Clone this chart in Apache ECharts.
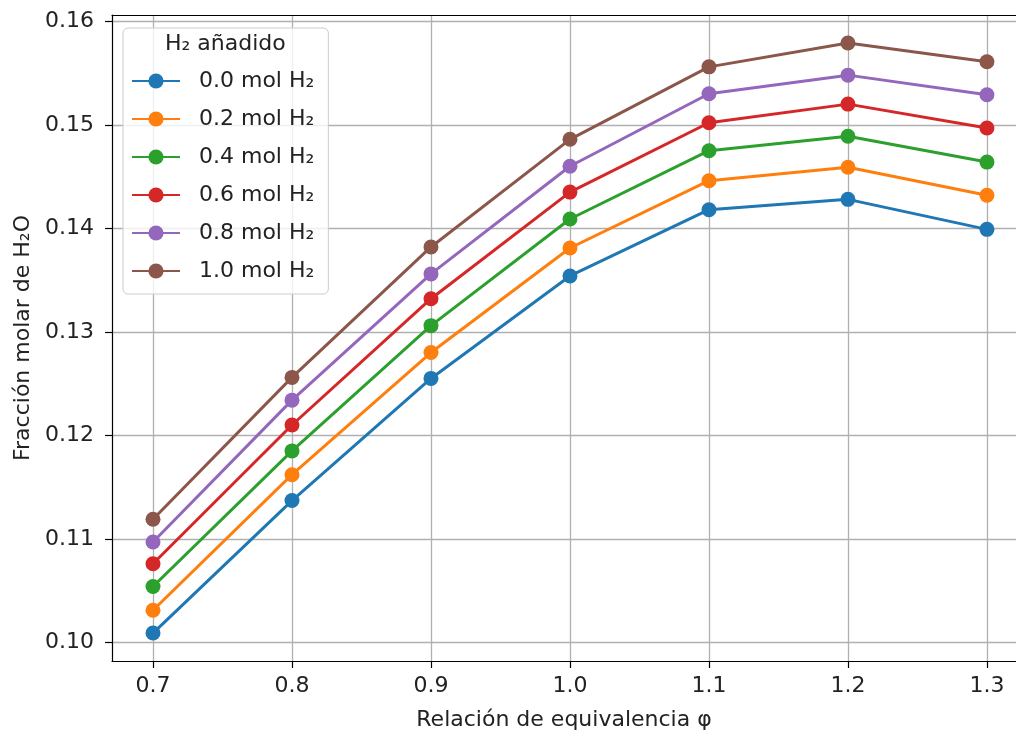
<!DOCTYPE html>
<html>
<head>
<meta charset="utf-8">
<script src="https://cdn.jsdelivr.net/npm/echarts@6/dist/echarts.min.js"></script>
<style>
html,body{margin:0;padding:0;background:#fff;}
#chart{width:1016px;height:736px;}
</style>
</head>
<body>
<div id="chart"></div>
<script>
var phi = [0.7, 0.8, 0.9, 1.0, 1.1, 1.2, 1.3];
var seriesNames = ['0.0 mol H₂', '0.2 mol H₂', '0.4 mol H₂', '0.6 mol H₂', '0.8 mol H₂', '1.0 mol H₂'];
var h2_00 = [0.1009, 0.1137, 0.1255, 0.1354, 0.1418, 0.1428, 0.1399];
var h2_02 = [0.1031, 0.1162, 0.1280, 0.1381, 0.1446, 0.1459, 0.1432];
var h2_04 = [0.1054, 0.1185, 0.1306, 0.1409, 0.1475, 0.1489, 0.1464];
var h2_06 = [0.1076, 0.1210, 0.1332, 0.1435, 0.1502, 0.1520, 0.1497];
var h2_08 = [0.1097, 0.1234, 0.1356, 0.1460, 0.1530, 0.1548, 0.1529];
var h2_10 = [0.1119, 0.1256, 0.1382, 0.1486, 0.1556, 0.1579, 0.1561];
var xTicks = [0.7, 0.8, 0.9, 1.0, 1.1, 1.2, 1.3];
var yTicks = [0.10, 0.11, 0.12, 0.13, 0.14, 0.15, 0.16];
var colors = ['#1f77b4', '#ff7f0e', '#2ca02c', '#d62728', '#9467bd', '#8c564b'];
var allValues = [h2_00, h2_02, h2_04, h2_06, h2_08, h2_10];

var FONT = 'DejaVu Sans';
var FS = 22;
var X_MIN = 0.6705, X_MAX = 1.3209;

var series = allValues.map(function (vals, i) {
  return {
    name: seriesNames[i],
    type: 'line',
    xAxisIndex: 0,
    data: phi.map(function (x, j) { return [x, vals[j]]; }),
    symbol: 'circle',
    symbolSize: 15,
    showSymbol: true,
    clip: true,
    lineStyle: { width: 3, color: colors[i] },
    itemStyle: { color: colors[i] },
    emphasis: { disabled: true },
    animation: false,
    z: 3
  };
});

var chart = echarts.init(document.getElementById('chart'), null, { renderer: 'canvas' });
chart.setOption({
  backgroundColor: '#ffffff',
  animation: false,
  color: colors,
  grid: {
    left: 112, top: 15, right: 0, bottom: 71,
    show: false
  },
  xAxis: [{
    type: 'value',
    min: X_MIN, max: X_MAX,
    name: 'Relación de equivalencia φ',
    nameLocation: 'middle',
    nameGap: 48,
    nameTextStyle: { fontFamily: FONT, fontSize: FS, color: '#222' },
    axisLine: { show: true, onZero: false, lineStyle: { color: '#000', width: 1.2 } },
    axisTick: { show: true, length: 7, lineStyle: { color: '#000', width: 1.2 }, customValues: xTicks },
    axisLabel: {
      fontFamily: FONT, fontSize: FS, color: '#222', margin: 14,
      customValues: xTicks,
      formatter: function (v) { return v.toFixed(1); }
    },
    splitLine: { show: true, lineStyle: { color: '#b0b0b0', width: 1.3 } }
  }, {
    type: 'value',
    position: 'top',
    min: X_MIN, max: X_MAX,
    axisLine: { show: true, onZero: false, lineStyle: { color: '#000', width: 1.2 } },
    axisTick: { show: false },
    axisLabel: { show: false },
    splitLine: { show: false }
  }],
  yAxis: {
    type: 'value',
    min: 0.09820, max: 0.16061,
    name: 'Fracción molar de H₂O',
    nameLocation: 'middle',
    nameGap: 73,
    nameTextStyle: { fontFamily: FONT, fontSize: FS, color: '#222' },
    axisLine: { show: true, onZero: false, lineStyle: { color: '#000', width: 1.2 } },
    axisTick: { show: true, length: 7, lineStyle: { color: '#000', width: 1.2 }, customValues: yTicks },
    axisLabel: {
      fontFamily: FONT, fontSize: FS, color: '#222', margin: 18,
      customValues: yTicks,
      formatter: function (v) { return v.toFixed(2); }
    },
    splitLine: { show: true, lineStyle: { color: '#b0b0b0', width: 1.3 } }
  },
  legend: {
    orient: 'vertical',
    left: 123, top: 28,
    itemWidth: 48, itemHeight: 19, itemGap: 16,
    padding: [42, 14, 12, 8],
    backgroundColor: 'rgba(255,255,255,0.8)',
    borderColor: '#cccccc', borderWidth: 1, borderRadius: 5,
    textStyle: { fontFamily: FONT, fontSize: FS, color: '#222', padding: [0, 0, 0, 14] },
    data: seriesNames,
    selectedMode: false
  },
  graphic: [{
    type: 'text',
    left: 165, top: 33,
    z: 100,
    style: { text: 'H₂ añadido', fontFamily: FONT, fontSize: FS, fill: '#222' }
  }],
  series: series
});
</script>
</body>
</html>
